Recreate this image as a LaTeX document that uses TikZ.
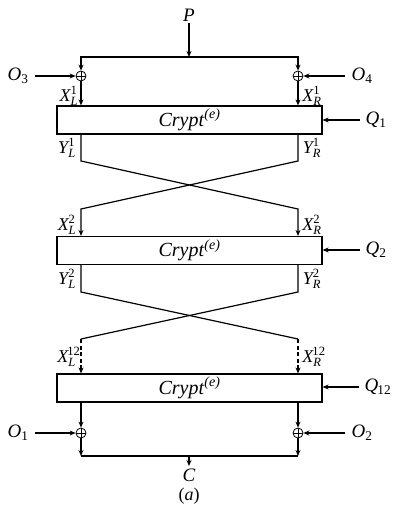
\documentclass[tikz,border=0pt]{standalone}
\usepackage{amsmath}
\usepackage{fontspec}
\setmainfont{Liberation Serif}
\usetikzlibrary{arrows.meta}
% indexed italic label: base, superscript, subscript
\newcommand\ixlab[3]{$\textit{#1}^{\text{#2}}_{\textit{#3}}$}
\newcommand\sublab[2]{\textit{#1}$_{\text{#2}}$}
\newcommand\cryptlab{\textit{Crypt}\textsuperscript{\textit{(e)}}}
\begin{document}
\begin{tikzpicture}[x=1pt,y=-1pt,line width=1.2pt,
  arr/.style={-{Stealth[length=6pt,width=5pt]}},
  lbl/.style={inner sep=1pt,font=\fontsize{19}{21}\selectfont},
  ilbl/.style={inner sep=0pt,font=\fontsize{18}{20}\selectfont},
  blk/.style={draw,minimum width=265pt,minimum height=28pt,inner sep=0pt,
    font=\fontsize{20}{22}\selectfont},
  xor/.style={circle,draw,line width=0.8pt,minimum size=10pt,inner sep=0pt,
    path picture={\draw[line width=0.8pt]
      (path picture bounding box.north) -- (path picture bounding box.south)
      (path picture bounding box.west) -- (path picture bounding box.east);}}]
\useasboundingbox (0,0) rectangle (395,505);

% input and first whitening
\node[lbl] (P) at (189,15) {\textit{P}};
\coordinate (top) at (189,57);
\node[xor] (xl1) at (81,76) {};
\node[xor] (xr1) at (298,76) {};
\draw[arr] (P) -- (top);
\draw[arr] (top) -| (xl1);
\draw[arr] (top) -| (xr1);
\node[lbl] (O3) at (18,76) {\sublab{O}{3}};
\node[lbl] (O4) at (362,76) {\sublab{O}{4}};
\draw[arr,shorten <=5pt] (O3) -- (xl1);
\draw[arr,shorten <=5pt] (O4) -- (xr1);

% three round blocks
\node[blk] (b1) at (189.5,120) {\cryptlab};
\node[blk] (b2) at (189.5,250.5) {\cryptlab};
\node[blk] (b3) at (189.5,388) {\cryptlab};

\node[lbl] (Q1) at (376,120) {\sublab{Q}{1}};
\node[lbl] (Q2) at (376,250) {\sublab{Q}{2}};
\node[lbl] (Q12) at (378,387) {\sublab{Q}{\kern-1pt12}};
\draw[arr,shorten <=4pt] (Q1) -- (Q1 -| b1.east);
\draw[arr,shorten <=4pt] (Q2) -- (Q2 -| b2.east);
\draw[arr,shorten <=4pt] (Q12) -- (Q12 -| b3.east);

\draw[arr] (xl1) -- (xl1 |- b1.north);
\draw[arr] (xr1) -- (xr1 |- b1.north);

% swaps between the blocks
\coordinate (l1b) at (81,161);
\coordinate (r1b) at (298,161);
\coordinate (l2t) at (81,209);
\coordinate (r2t) at (298,209);
\draw[arr] (b1.south -| l1b) -- (l1b) -- (r2t) -- (r2t |- b2.north);
\draw[arr] (b1.south -| r1b) -- (r1b) -- (l2t) -- (l2t |- b2.north);

\coordinate (l2b) at (81,292);
\coordinate (r2b) at (298,292);
\coordinate (l3t) at (81,339);
\coordinate (r3t) at (298,339);
\draw (b2.south -| l2b) -- (l2b) -- (r3t);
\draw (b2.south -| r2b) -- (r2b) -- (l3t);
\draw[arr,dash pattern=on 4pt off 2.5pt] (l3t) -- (l3t |- b3.north);
\draw[arr,dash pattern=on 4pt off 2.5pt] (r3t) -- (r3t |- b3.north);

% block input/output labels
\node[ilbl] (xl1t) at (69,96) {\ixlab{X}{1}{L}};
\node[ilbl] (xr1t) at (312,96) {\ixlab{X}{1}{R}};
\node[ilbl] (yl1t) at (67,148) {\ixlab{Y}{1}{L}};
\node[ilbl] (yr1t) at (312,148) {\ixlab{Y}{1}{R}};
\node[ilbl] (xl2t) at (67,225) {\ixlab{X}{2}{L}};
\node[ilbl] (xr2t) at (312,225) {\ixlab{X}{2}{R}};
\node[ilbl] (yl2t) at (67,279) {\ixlab{Y}{2}{L}};
\node[ilbl] (yr2t) at (312,279) {\ixlab{Y}{2}{R}};
\node[ilbl] (xl3t) at (69,357) {\ixlab{X}{\kern-1pt12}{L}};
\node[ilbl] (xr3t) at (314,357) {\ixlab{X}{\kern-1pt12}{R}};

% final whitening and output
\node[xor] (xl3) at (81,433) {};
\node[xor] (xr3) at (298,433) {};
\draw[arr] (xl3 |- b3.south) -- (xl3);
\draw[arr] (xr3 |- b3.south) -- (xr3);
\node[lbl] (O1) at (18,433) {\sublab{O}{1}};
\node[lbl] (O2) at (362,433) {\sublab{O}{2}};
\draw[arr,shorten <=5pt] (O1) -- (xl3);
\draw[arr,shorten <=5pt] (O2) -- (xr3);

\coordinate (bl) at (81,456);
\coordinate (br) at (298,456);
\coordinate (bm) at (189,456);
\draw[arr] (xl3) -- (bl);
\draw[arr] (xr3) -- (br);
\draw (bl) -- (br);
\node[lbl,inner sep=0pt] (C) at (189,475) {\textit{C}};
\draw[arr,shorten >=2pt] (bm) -- (C);
\node[lbl,inner sep=0pt,anchor=south,font=\fontsize{18}{20}\selectfont] (cap) at (189,504.5) {(\textit{a})};
\end{tikzpicture}
\end{document}
